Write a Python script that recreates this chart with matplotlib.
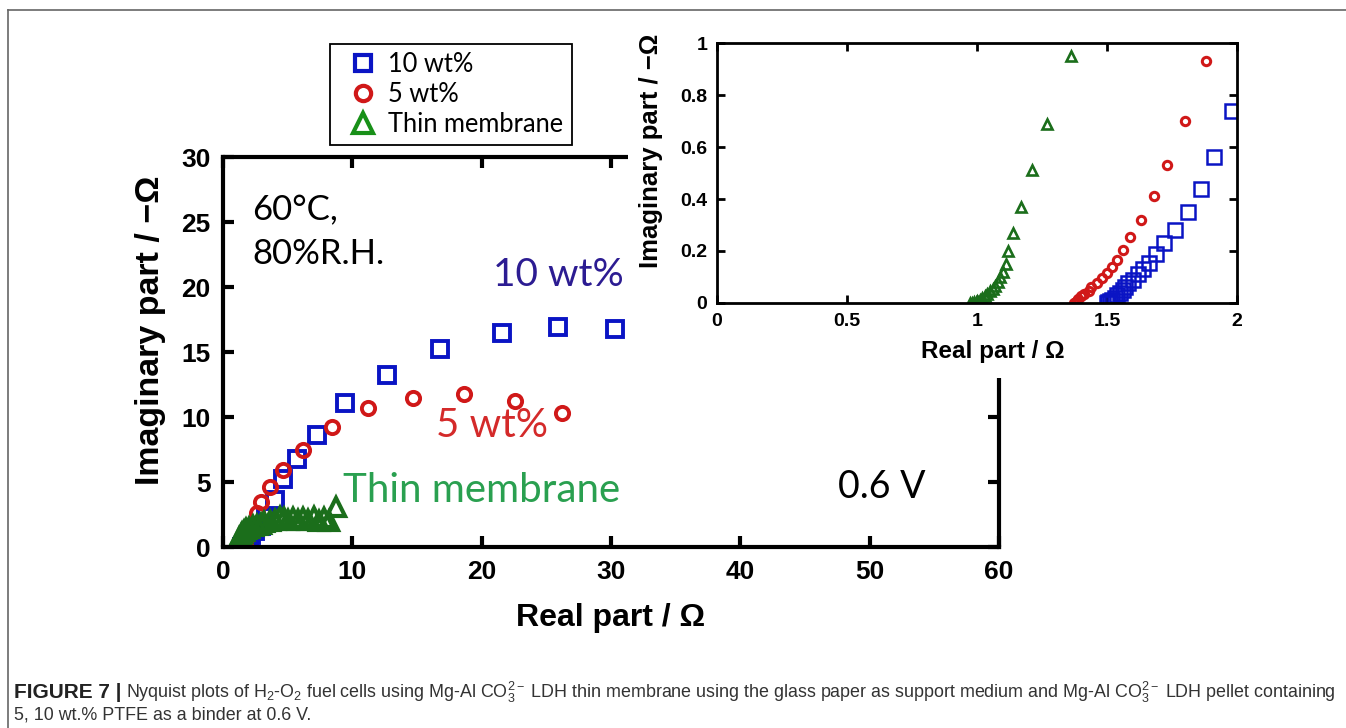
import matplotlib
matplotlib.use("Agg")
import matplotlib.pyplot as plt
from matplotlib.lines import Line2D
from matplotlib.patches import Rectangle
from matplotlib.ticker import FuncFormatter

# Nyquist data: real part / ohm, imaginary part / -ohm
thin_re = [0.975, 0.98, 0.99, 1.00, 1.01, 1.02, 1.03, 1.04, 1.05, 1.06, 1.07, 1.08,
           1.09, 1.10, 1.11, 1.12, 1.14, 1.17, 1.21, 1.27, 1.36,
           1.45, 1.6, 1.8, 2.0, 2.3, 2.6, 2.9, 3.2, 3.6, 4.0, 4.4, 4.7, 5.0, 5.4,
           5.8, 6.2, 6.6, 7.0, 7.4, 7.8, 8.2, 8.7]
thin_im = [0.0, 0.001, 0.004, 0.008, 0.013, 0.02, 0.027, 0.035, 0.045, 0.055, 0.065, 0.08,
           0.10, 0.12, 0.15, 0.20, 0.27, 0.37, 0.51, 0.69, 0.95,
           1.1, 1.25, 1.4, 1.5, 1.6, 1.7, 1.8, 1.9, 2.0, 2.1, 2.3, 2.2, 2.1, 2.2,
           2.1, 2.2, 2.1, 2.3, 2.0, 2.2, 2.0, 3.1]

wt5_re = [1.375, 1.38, 1.385, 1.39, 1.40, 1.41, 1.43, 1.44, 1.46, 1.48, 1.50, 1.52,
          1.54, 1.56, 1.59, 1.63, 1.68, 1.73, 1.80, 1.88,
          2.05, 2.6, 2.9, 3.6, 4.6, 6.2, 8.4, 11.2, 14.7, 18.6, 22.6, 26.2]
wt5_im = [0.0, 0.003, 0.008, 0.015, 0.025, 0.035, 0.045, 0.06, 0.075, 0.095, 0.115, 0.14,
          0.165, 0.205, 0.255, 0.32, 0.41, 0.53, 0.70, 0.93,
          1.3, 2.6, 3.5, 4.6, 5.9, 7.5, 9.2, 10.7, 11.5, 11.8, 11.2, 10.3]

wt10_re = [1.50, 1.505, 1.51, 1.52, 1.53, 1.54, 1.55, 1.56, 1.57, 1.58, 1.60, 1.62,
           1.64, 1.66, 1.69, 1.72, 1.76, 1.81, 1.86, 1.91, 1.98,
           2.2, 2.5, 2.9, 3.3, 4.0, 4.6, 5.7, 7.3, 9.4, 12.7, 16.8, 21.6, 25.9, 30.3]
wt10_im = [0.0, 0.002, 0.006, 0.012, 0.02, 0.03, 0.04, 0.05, 0.06, 0.075, 0.09, 0.11,
           0.13, 0.155, 0.19, 0.23, 0.28, 0.35, 0.44, 0.56, 0.74,
           0.9, 1.2, 1.6, 2.3, 3.6, 5.2, 6.8, 8.6, 11.1, 13.2, 15.2, 16.5, 16.9, 16.8]

legend_labels = ["10 wt%", "5 wt%", "Thin membrane"]

BLUE = "#0a14c4"
RED = "#d01818"
GREEN = "#1b6e1b"

plt.rcParams["font.family"] = ["Liberation Sans", "DejaVu Sans"]
plt.rcParams["font.weight"] = "bold"
plt.rcParams["axes.labelweight"] = "bold"
plt.rcParams["mathtext.fontset"] = "custom"
plt.rcParams["mathtext.rm"] = "Liberation Sans:regular"
plt.rcParams["mathtext.it"] = "Liberation Sans:regular"

fig = plt.figure(figsize=(13.46, 7.28), dpi=100)

# ---- main plot
ax = fig.add_axes([0.1657, 0.2486, 0.5765, 0.5357])
ax.plot(wt10_re, wt10_im, ls="none", marker="s", ms=12, mfc="none", mec=BLUE, mew=2.8)
ax.plot(wt5_re, wt5_im, ls="none", marker="o", ms=9.5, mfc="none", mec=RED, mew=2.8)
ax.plot(thin_re, thin_im, ls="none", marker="^", ms=13, mfc="none", mec=GREEN, mew=3)
ax.set_xlim(0, 60)
ax.set_ylim(0, 30)
ax.set_xticks(range(0, 61, 10))
ax.set_yticks(range(0, 31, 5))
for s in ax.spines.values():
    s.set_linewidth(3)
ax.tick_params(direction="in", length=8, width=3, top=True, right=True,
               labelsize=19, pad=9)
ax.set_xlabel("Real part / Ω", fontsize=23)
ax.set_ylabel("Imaginary part / −Ω", fontsize=24.5)
ax.xaxis.set_label_coords(0.499, -0.143)
ax.yaxis.set_label_coords(-0.074, 0.556)

lato = ["Lato", "DejaVu Sans"]
ax.text(0.038, 0.905, "60°C,\n80%R.H.", transform=ax.transAxes, family=lato,
        weight="normal", fontsize=25, va="top", linespacing=1.45)
ax.text(0.348, 0.67, "10 wt%", transform=ax.transAxes, family=lato,
        weight="normal", fontsize=28, color="#2c1c92")
ax.text(0.274, 0.283, "5 wt%", transform=ax.transAxes, family=lato,
        weight="normal", fontsize=29, color="#d42a2a")
ax.text(0.154, 0.115, "Thin membrane", transform=ax.transAxes, family=lato,
        weight="normal", fontsize=29, color="#2aa050")
ax.text(0.793, 0.125, "0.6 V", transform=ax.transAxes, family=lato,
        weight="normal", fontsize=27)

# white cover behind the inset
fig.add_artist(Rectangle((0.4666, 0.4808), 0.4695, 0.4945, transform=fig.transFigure,
                         facecolor="white", edgecolor="none", zorder=1))

# ---- inset
ins = fig.add_axes([0.5327, 0.5838, 0.3863, 0.3571], zorder=2)
ins.plot(thin_re, thin_im, ls="none", marker="^", ms=7.5, mfc="none", mec=GREEN, mew=1.9)
ins.plot(wt5_re, wt5_im, ls="none", marker="o", ms=6, mfc="none", mec=RED, mew=2.2)
ins.plot(wt10_re, wt10_im, ls="none", marker="s", ms=9.5, mfc="none", mec=BLUE, mew=1.8)
ins.set_xlim(0, 2)
ins.set_ylim(0, 1)
ins.set_xticks([0, 0.5, 1, 1.5, 2])
ins.set_yticks([0, 0.2, 0.4, 0.6, 0.8, 1])
fmt = FuncFormatter(lambda v, p: f"{v:g}")
ins.xaxis.set_major_formatter(fmt)
ins.yaxis.set_major_formatter(fmt)
for s in ins.spines.values():
    s.set_linewidth(2)
ins.tick_params(direction="in", length=6, width=2, top=True, right=True,
                labelsize=14, pad=7)
ins.set_xlabel("Real part / Ω", fontsize=17.5)
ins.set_ylabel("Imaginary part / −Ω", fontsize=18.5)
ins.xaxis.set_label_coords(0.531, -0.142)
ins.yaxis.set_label_coords(-0.104, 0.585)

# ---- legend
handles = [
    Line2D([], [], ls="none", marker="s", ms=11, mfc="none", mec=BLUE, mew=3),
    Line2D([], [], ls="none", marker="o", ms=11, mfc="none", mec=RED, mew=3),
    Line2D([], [], ls="none", marker="^", ms=15, mfc="none", mec="#189018", mew=3),
]
leg = fig.legend(handles, legend_labels, loc="upper left",
                 bbox_to_anchor=(330 / 1346, 1 - 44 / 728),
                 prop={"family": lato, "weight": "normal", "size": 18.4},
                 frameon=True, fancybox=False, framealpha=1, edgecolor="black",
                 handlelength=1.9, handletextpad=0.05, borderpad=0.33,
                 labelspacing=0.18, borderaxespad=0)
leg.get_frame().set_linewidth(1.3)

# ---- page frame
fig.add_artist(Line2D([8 / 1346, 8 / 1346], [0, 1 - 10 / 728], transform=fig.transFigure,
                      color="#666666", lw=1.2))
fig.add_artist(Line2D([8 / 1346, 1], [1 - 10 / 728, 1 - 10 / 728], transform=fig.transFigure,
                      color="#666666", lw=1.2))

# ---- caption
cap = ["Liberation Sans", "DejaVu Sans"]
r = fig.canvas.get_renderer()
t1 = fig.text(14 / 1346, 1 - 692 / 728, "FIGURE 7 |", family=cap, weight="bold",
              fontsize=15, va="center", color="#222222")
x1 = t1.get_window_extent(renderer=r).x1 / fig.bbox.width
fig.text(x1 + 0.003, 1 - 692 / 728,
         r"Nyquist plots of H$_2$-O$_2$ fuel cells using Mg-Al CO$_3^{2-}$ LDH thin membrane "
         r"using the glass paper as support medium and Mg-Al CO$_3^{2-}$ LDH pellet containing",
         family=cap, weight="normal", fontsize=12.85, va="center", color="#333333")
fig.text(14 / 1346, 1 - 715 / 728, "5, 10 wt.% PTFE as a binder at 0.6 V.", family=cap,
         weight="normal", fontsize=12.85, va="center", color="#333333")

fig.savefig("out.png", dpi=100)
